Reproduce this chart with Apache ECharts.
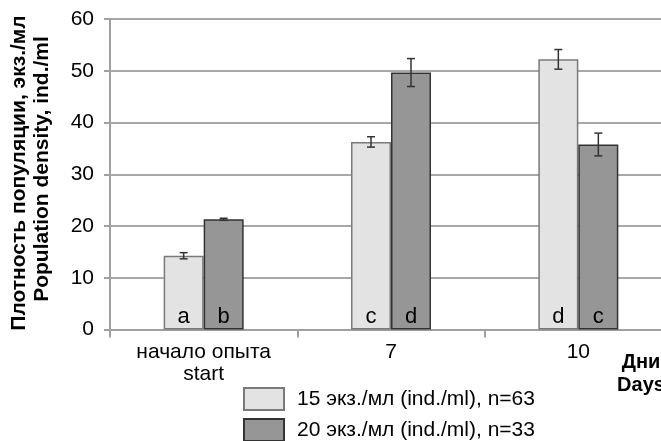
<!DOCTYPE html>
<html>
<head>
<meta charset="utf-8">
<script src="https://cdn.jsdelivr.net/npm/echarts@6/dist/echarts.min.js"></script>
<style>html,body{margin:0;padding:0;background:#fff;}#c{width:661px;height:441px;}</style>
</head>
<body>
<div id="c"></div>
<script>
const categories = ['начало опыта\nstart', '7', '10'];
const seriesNames = ['15 экз./мл (ind./ml), n=63', '20 экз./мл (ind./ml), n=33'];
const values15 = [14.25, 36.25, 52.2];
const values20 = [21.3, 49.65, 35.75];
const errors15 = [0.6, 1.0, 1.9];
const errors20 = [0.2, 2.7, 2.2];
const letters15 = ['a', 'c', 'd'];
const letters20 = ['b', 'd', 'c'];
const yTicks = [0, 10, 20, 30, 40, 50, 60];

const FONT = '"Liberation Sans", Arial, sans-serif';
const BAR_W = 40;
const FS = 21;

function errSeries(vals, errs, offset) {
  return {
    type: 'custom',
    z: 5,
    silent: true,
    data: vals.map((v, i) => [i, v, errs[i]]),
    encode: { x: 0, y: 1 },
    renderItem: function (params, api) {
      const c = api.value(0), v = api.value(1), e = api.value(2);
      const x = api.coord([c, v])[0] + offset;
      const yt = api.coord([c, v + e])[1];
      const yb = api.coord([c, v - e])[1];
      const st = { stroke: '#333', lineWidth: 1.5 };
      return {
        type: 'group',
        children: [
          { type: 'line', shape: { x1: x, y1: yt, x2: x, y2: yb }, style: st },
          { type: 'line', shape: { x1: x - 4, y1: yt, x2: x + 4, y2: yt }, style: st },
          { type: 'line', shape: { x1: x - 4, y1: yb, x2: x + 4, y2: yb }, style: st }
        ]
      };
    }
  };
}

function legendFor(name, top) {
  return {
    data: [name],
    orient: 'horizontal',
    left: 243,
    top: top,
    padding: 0,
    itemWidth: 40,
    itemHeight: 22,
    icon: 'rect',
    selectedMode: false,
    textStyle: { fontSize: FS, color: '#000', fontFamily: FONT, padding: [0, 0, 0, 8] }
  };
}

const chart = echarts.init(document.getElementById('c'), null, { renderer: 'canvas' });
chart.setOption({
  animation: false,
  backgroundColor: '#fff',
  textStyle: { fontFamily: FONT },
  grid: { left: 110, top: 19, bottom: 111.5, right: -11, containLabel: false, outerBoundsMode: 'none' },
  legend: [legendFor(seriesNames[0], 387), legendFor(seriesNames[1], 418)],
  xAxis: {
    type: 'category',
    data: categories,
    axisLine: { lineStyle: { color: '#a0a0a0', width: 2 } },
    axisTick: { show: true, length: 8, alignWithLabel: false, lineStyle: { color: '#a0a0a0', width: 2 } },
    axisLabel: { fontSize: FS, color: '#000', margin: 12, lineHeight: 22, fontFamily: FONT }
  },
  yAxis: {
    type: 'value',
    min: 0,
    max: 60,
    interval: 10,
    axisLine: { show: true, lineStyle: { color: '#a0a0a0', width: 2 } },
    axisTick: { show: true, length: 6, lineStyle: { color: '#a0a0a0', width: 2 } },
    axisLabel: { fontSize: FS, color: '#000', margin: 16, fontFamily: FONT,
      formatter: v => yTicks.indexOf(v) >= 0 ? String(v) : '' },
    splitLine: { lineStyle: { color: '#a8a8a8', width: 2 } }
  },
  graphic: [
    { type: 'text', x: 19, y: 173, rotation: Math.PI / 2,
      style: { text: 'Плотность популяции, экз./мл', font: 'bold 21px ' + FONT, fill: '#000', textAlign: 'center', textVerticalAlign: 'middle' } },
    { type: 'text', x: 42, y: 169, rotation: Math.PI / 2,
      style: { text: 'Population density, ind./ml', font: 'bold 21px ' + FONT, fill: '#000', textAlign: 'center', textVerticalAlign: 'middle' } },
    { type: 'text', x: 641, y: 362,
      style: { text: 'Дни', font: 'bold 20px ' + FONT, fill: '#000', textAlign: 'center', textVerticalAlign: 'middle' } },
    { type: 'text', x: 641, y: 385,
      style: { text: 'Days', font: 'bold 20px ' + FONT, fill: '#000', textAlign: 'center', textVerticalAlign: 'middle' } }
  ],
  series: [
    {
      name: seriesNames[0], type: 'bar', data: values15, barWidth: BAR_W, barGap: '0%',
      itemStyle: { color: '#e3e3e3', borderColor: '#7a7a7a', borderWidth: 1.5 },
      label: { show: true, position: 'insideBottom', distance: 2, fontSize: 22, color: '#000', fontFamily: FONT,
        formatter: p => letters15[p.dataIndex] }
    },
    {
      name: seriesNames[1], type: 'bar', data: values20, barWidth: BAR_W, barGap: '0%',
      itemStyle: { color: '#969696', borderColor: '#333333', borderWidth: 1.5 },
      label: { show: true, position: 'insideBottom', distance: 2, fontSize: 22, color: '#000', fontFamily: FONT,
        formatter: p => letters20[p.dataIndex] }
    },
    errSeries(values15, errors15, -BAR_W / 2),
    errSeries(values20, errors20, BAR_W / 2)
  ]
});
</script>
</body>
</html>
